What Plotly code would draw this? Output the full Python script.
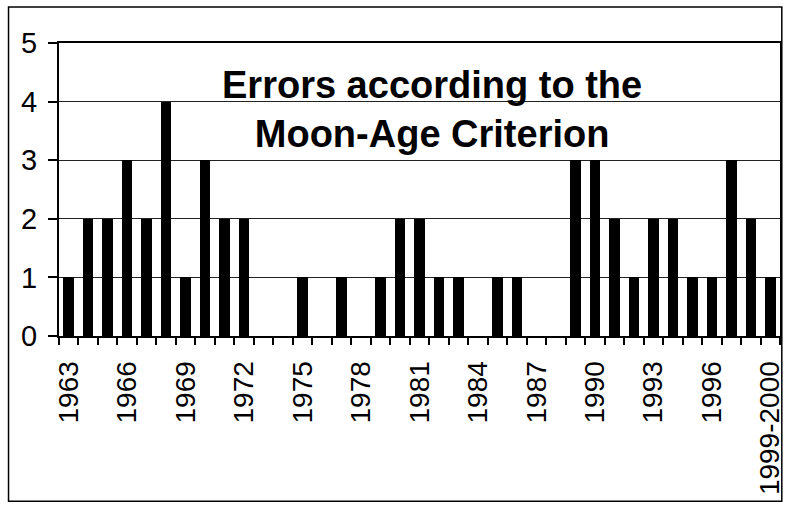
import plotly.graph_objects as go

# Years on the category axis (last bin covers two years)
years = ["1963", "1964", "1965", "1966", "1967", "1968", "1969", "1970",
         "1971", "1972", "1973", "1974", "1975", "1976", "1977", "1978",
         "1979", "1980", "1981", "1982", "1983", "1984", "1985", "1986",
         "1987", "1988", "1989", "1990", "1991", "1992", "1993", "1994",
         "1995", "1996", "1997", "1998", "1999-2000"]

# Number of errors per year
errors = [1, 2, 2, 3, 2, 4, 1, 3, 2, 2, 0, 0, 1, 0, 1, 0,
          1, 2, 2, 1, 1, 0, 1, 1, 0, 0, 3, 3, 2, 1, 2, 2,
          1, 1, 3, 2, 1]

title_lines = ["Errors according to the", "Moon-Age Criterion"]

FONT = "Liberation Sans, Arial, sans-serif"

x_pos = list(range(len(years)))
label_idx = x_pos[::3]

fig = go.Figure()
fig.add_trace(
    go.Bar(
        x=x_pos,
        y=errors,
        width=0.54,
        marker=dict(color="black", line=dict(width=0)),
        showlegend=False,
    )
)

fig.update_layout(
    width=789,
    height=506,
    margin=dict(l=59, r=4, t=43, b=170),
    paper_bgcolor="white",
    plot_bgcolor="white",
    font=dict(family=FONT, color="black"),
    bargap=0,
)

fig.update_xaxes(
    range=[-0.5, len(years) - 0.5],
    tickmode="array",
    tickvals=label_idx,
    ticktext=[years[i] for i in label_idx],
    tickangle=-90,
    tickfont=dict(size=28, family=FONT, color="black"),
    ticks="",
    ticklabelstandoff=12,
    minor=dict(ticks="outside", tick0=-0.5, dtick=1, ticklen=7,
               tickwidth=1.5, tickcolor="black", showgrid=False),
    showgrid=False,
    zeroline=False,
    showline=True,
    linecolor="black",
    linewidth=2,
    mirror=True,
)

fig.update_yaxes(
    range=[0, 5],
    dtick=1,
    tickfont=dict(size=29, family=FONT, color="black"),
    ticks="outside",
    ticklen=9,
    tickwidth=1.5,
    tickcolor="black",
    ticklabelstandoff=5,
    showgrid=True,
    gridcolor="#222222",
    gridwidth=1,
    zeroline=False,
    showline=True,
    linecolor="black",
    linewidth=2,
    mirror=True,
)

# Title sits inside the plot area
fig.add_annotation(
    x=18.66,
    y=3.86,
    xref="x",
    yref="y",
    text="<br>".join(title_lines),
    showarrow=False,
    font=dict(size=38, family=FONT, color="black", weight="bold"),
    align="center",
    xanchor="center",
    yanchor="middle",
)

# Outer chart frame
fig.add_shape(
    type="rect",
    xref="paper",
    yref="paper",
    x0=-0.07,
    x1=1.0025,
    y0=-0.564,
    y1=1.123,
    line=dict(color="black", width=1.5),
    layer="below",
)

# drop the default page margin so the figure starts at the corner
fig.write_html("out.html", config={"displayModeBar": False},
               post_script="document.body.style.margin='0';")
